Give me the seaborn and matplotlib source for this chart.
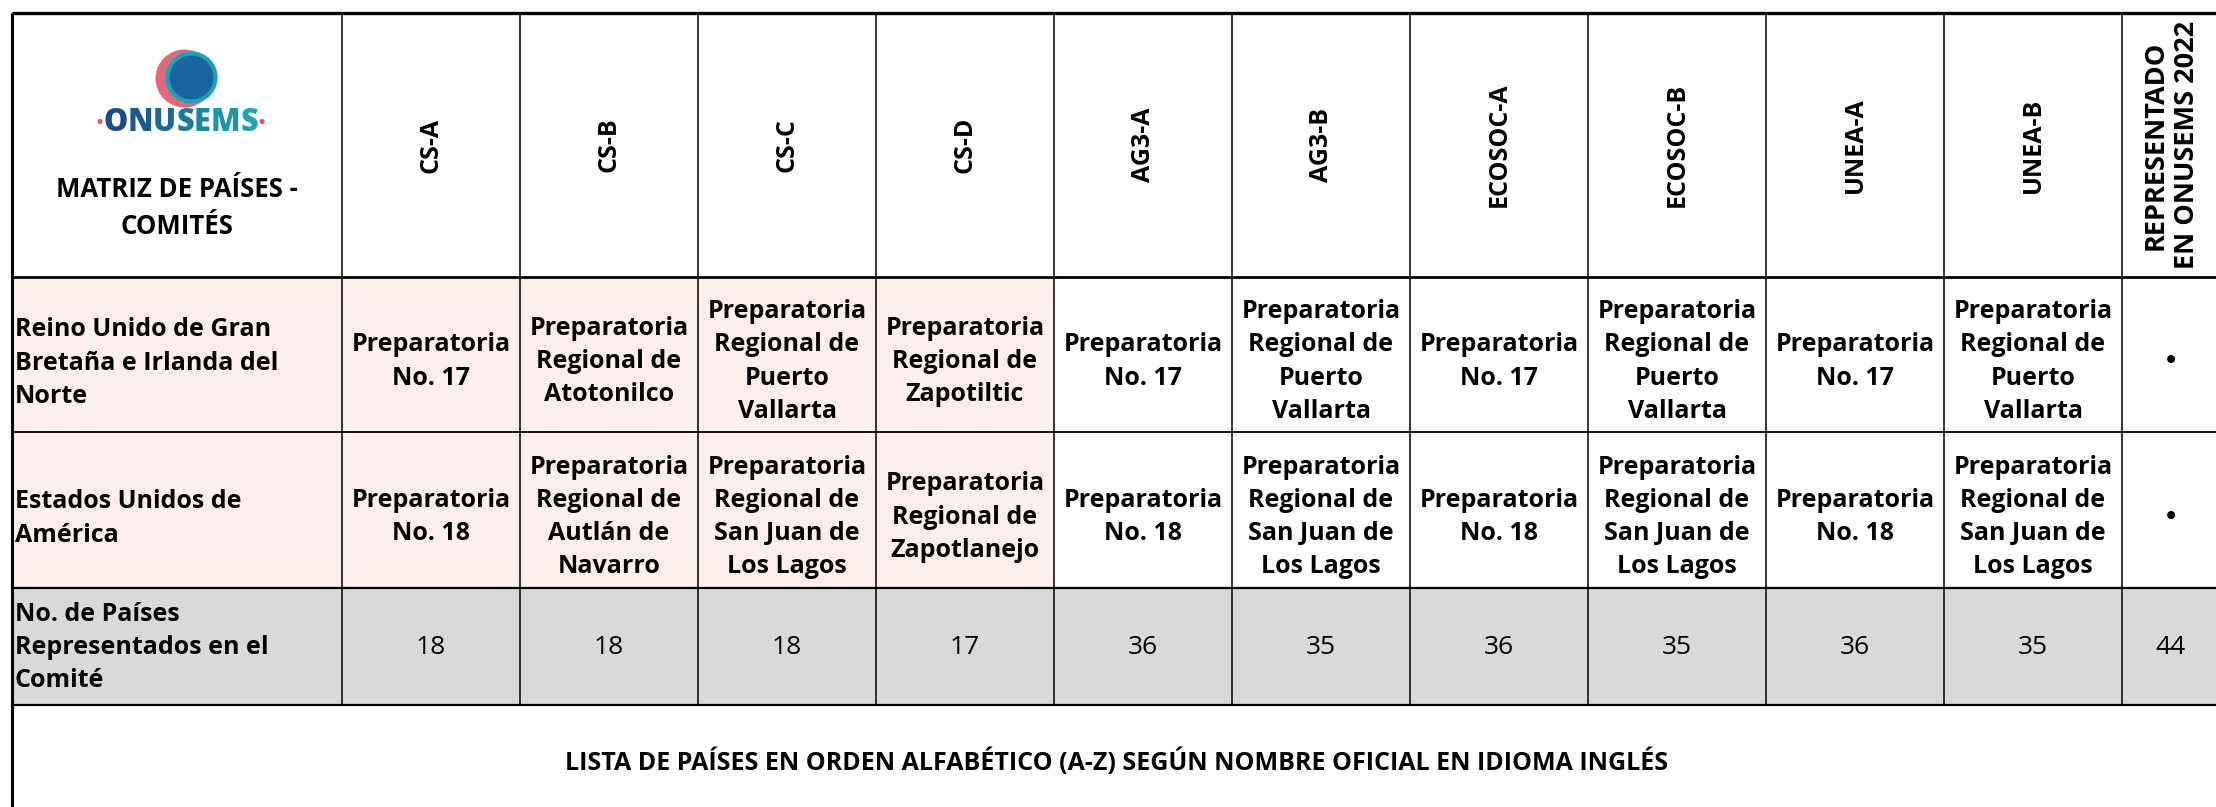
import numpy as np
import pandas as pd
import matplotlib
matplotlib.use("Agg")
import matplotlib.pyplot as plt
import seaborn as sns
from matplotlib.colors import ListedColormap, to_rgb

# ------------------------------------------------------------------
# Data
# ------------------------------------------------------------------
committees = ["CS-A", "CS-B", "CS-C", "CS-D", "AG3-A", "AG3-B",
              "ECOSOC-A", "ECOSOC-B", "UNEA-A", "UNEA-B"]
countries = ["Reino Unido de Gran\nBretaña e Irlanda del\nNorte",
             "Estados Unidos de\nAmérica"]
uk_schools = ["Preparatoria\nNo. 17",
              "Preparatoria\nRegional de\nAtotonilco",
              "Preparatoria\nRegional de\nPuerto\nVallarta",
              "Preparatoria\nRegional de\nZapotiltic",
              "Preparatoria\nNo. 17",
              "Preparatoria\nRegional de\nPuerto\nVallarta",
              "Preparatoria\nNo. 17",
              "Preparatoria\nRegional de\nPuerto\nVallarta",
              "Preparatoria\nNo. 17",
              "Preparatoria\nRegional de\nPuerto\nVallarta"]
us_schools = ["Preparatoria\nNo. 18",
              "Preparatoria\nRegional de\nAutlán de\nNavarro",
              "Preparatoria\nRegional de\nSan Juan de\nLos Lagos",
              "Preparatoria\nRegional de\nZapotlanejo",
              "Preparatoria\nNo. 18",
              "Preparatoria\nRegional de\nSan Juan de\nLos Lagos",
              "Preparatoria\nNo. 18",
              "Preparatoria\nRegional de\nSan Juan de\nLos Lagos",
              "Preparatoria\nNo. 18",
              "Preparatoria\nRegional de\nSan Juan de\nLos Lagos"]
represented = ["•", "•"]
count_label = "No. de Países\nRepresentados en el\nComité"
countries_per_committee = [18, 18, 18, 17, 36, 35, 36, 35, 36, 35]
total_represented = 44
title_text = "MATRIZ DE PAÍSES -\nCOMITÉS"
last_header = "REPRESENTADO\nEN ONUSEMS 2022"
footer_text = ("LISTA DE PAÍSES EN ORDEN ALFABÉTICO (A-Z) SEGÚN NOMBRE "
               "OFICIAL EN IDIOMA INGLÉS")

# ------------------------------------------------------------------
# Layout (pixel edges of the table grid)
# ------------------------------------------------------------------
W, H = 2216, 807
COL_EDGES = [12] + [342 + 178 * k for k in range(11)] + [2220]
ROW_EDGES = [13, 277, 432, 588, 705, 820]

PINK = "#FCEFEC"
GREY = "#D9D9D9"
BODY_SIZE = 18
BODY_LS = 1.43
HEAD_SIZE = 18
NUM_SIZE = 19
ROW_SHIFT = 0.545   # text sits slightly below the row centre

plt.rcParams["font.family"] = ["Open Sans", "DejaVu Sans"]


def piecewise(edges):
    e = np.asarray(edges, float)
    idx = np.arange(len(e), dtype=float)
    n = len(e) - 1
    idx_ext = np.concatenate([[-50.0], idx, [n + 50.0]])
    px_ext = np.concatenate([[e[0] - 50 * (e[1] - e[0])], e,
                             [e[-1] + 50 * (e[-1] - e[-2])]])
    fwd = lambda v: np.interp(v, idx_ext, px_ext)
    inv = lambda v: np.interp(v, px_ext, idx_ext)
    return fwd, inv


fx, ix = piecewise(COL_EDGES)
fy, iy = piecewise(ROW_EDGES)

# ------------------------------------------------------------------
# Cell colour codes: 0 white, 1 pink (CS committees), 2 grey
# ------------------------------------------------------------------
ncols = len(committees) + 2
pink_row = [1] + [1 if c.startswith("CS-") else 0 for c in committees] + [0]
codes = pd.DataFrame([[0] * ncols, pink_row, pink_row, [2] * ncols, [0] * ncols])

fig = plt.figure(figsize=(W / 100, H / 100), dpi=100)
ax = fig.add_axes([0, 0, 1, 1])
sns.heatmap(codes, ax=ax, cmap=ListedColormap(["white", PINK, GREY]),
            vmin=-0.5, vmax=2.5, cbar=False, xticklabels=False,
            yticklabels=False, linewidths=0)

ax.set_xscale("function", functions=(fx, ix))
ax.set_yscale("function", functions=(fy, iy))
ax.set_xlim(ix(0), ix(W))
ax.set_ylim(iy(H), iy(0))
ax.set_autoscale_on(False)
ax.axis("off")

# grid lines
nrows = 5
ax.vlines(np.arange(1, ncols), 0, 4, colors="black", lw=1.1)
ax.vlines([0], 0, nrows, colors="black", lw=2.2)
ax.vlines([ncols], 0, nrows, colors="black", lw=2.2)
ax.hlines([0], 0, ncols, colors="black", lw=2.4)
ax.hlines([1], 0, ncols, colors="black", lw=2.0)
ax.hlines([2], 0, ncols, colors="black", lw=1.3)
ax.hlines([3, 4], 0, ncols, colors="black", lw=1.6)

# ------------------------------------------------------------------
# Header row
# ------------------------------------------------------------------
# logo
ax.scatter([ix(184)], [iy(78)], s=(2 * 29 * 0.72) ** 2, color="#E06A7C",
           zorder=3, linewidths=0)
ax.scatter([ix(191)], [iy(77)], s=(2 * 24 * 0.72) ** 2, color="#1C64A0",
           edgecolors="#1AA3B2", linewidths=3, zorder=4)

start = to_rgb("#1D4B88")
end = to_rgb("#18A7B0")
letters = "ONUSEMS"
prev = ax.text(ix(95), iy(132), "·", color="#D9527A", fontsize=21,
               fontweight="bold", ha="left", va="baseline")
for k, ch in enumerate(letters):
    t = k / (len(letters) - 1)
    col = tuple(s + (e - s) * t for s, e in zip(start, end))
    prev = ax.annotate(ch, xy=(1, 0), xycoords=prev, ha="left", va="bottom",
                       color=col, fontsize=22, fontweight="heavy")
ax.annotate("·", xy=(1, 0), xycoords=prev, ha="left", va="bottom",
            color="#D9527A", fontsize=21, fontweight="bold")

ax.text(0.5, iy(208), title_text, ha="center", va="center",
        fontsize=18.5, fontweight="bold", linespacing=1.5,
        multialignment="center")

for c, name in enumerate(committees):
    ax.text(c + 1.5, 0.5, name, rotation=90, ha="center", va="center",
            fontsize=HEAD_SIZE, fontweight="bold")
ax.text(ncols - 0.5, 0.5, last_header, rotation=90, ha="center",
        va="center", fontsize=19.5, fontweight="bold",
        multialignment="center", linespacing=1.25)

# ------------------------------------------------------------------
# Country rows
# ------------------------------------------------------------------
for r, (country, schools, mark) in enumerate(
        zip(countries, [uk_schools, us_schools], represented), start=1):
    ax.text(ix(15), r + ROW_SHIFT + 0.01, country, ha="left", va="center",
            fontsize=BODY_SIZE, fontweight="bold", linespacing=BODY_LS)
    for c, school in enumerate(schools):
        ax.text(c + 1.5, r + ROW_SHIFT, school, ha="center", va="center",
                fontsize=BODY_SIZE, fontweight="bold", linespacing=BODY_LS,
                multialignment="center")
    ax.text(ncols - 0.5, r + ROW_SHIFT, mark, ha="center", va="center",
            fontsize=20, family="DejaVu Sans")

# counts row
ax.text(ix(15), 3.51, count_label, ha="left", va="center",
        fontsize=BODY_SIZE, fontweight="bold", linespacing=BODY_LS)
for c, n in enumerate(countries_per_committee):
    ax.text(c + 1.5, 3.51, str(n), ha="center", va="center", fontsize=NUM_SIZE)
ax.text(ncols - 0.5, 3.51, str(total_represented), ha="center", va="center",
        fontsize=NUM_SIZE)

# footer
ax.text(ix(1117), 4.5, footer_text, ha="center", va="center",
        fontsize=18, fontweight="bold")

fig.savefig("out.png", dpi=100)
